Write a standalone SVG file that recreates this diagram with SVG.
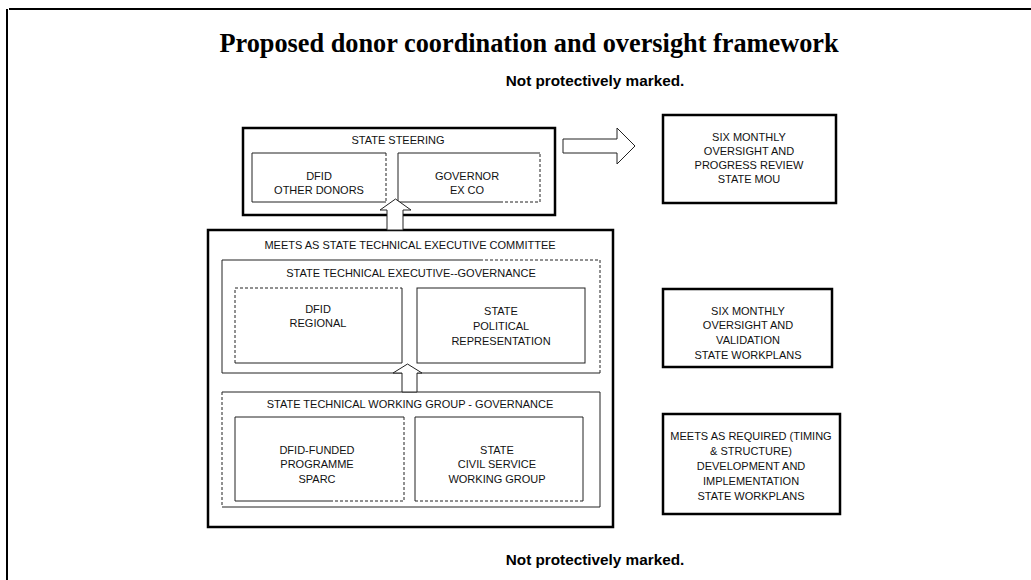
<svg xmlns="http://www.w3.org/2000/svg" width="1031" height="580" viewBox="0 0 1031 580">
<style>
.thick{fill:none;stroke:#000;stroke-width:2.5}
.thin{fill:none;stroke:#222;stroke-width:1}
.dash{fill:none;stroke:#222;stroke-width:1;stroke-dasharray:3 2}
.lbl{font-family:"Liberation Sans",Arial,sans-serif;font-size:11px;text-anchor:middle;fill:#111}
.arrow{fill:#fff;stroke:#222;stroke-width:1}
.mark{font-family:"Liberation Sans",Arial,sans-serif;font-size:15.3px;font-weight:bold;text-anchor:middle;fill:#000}
</style>
<rect width="1031" height="580" fill="#fff"/>
<g id="page-frame">
<line x1="9" y1="9" x2="1031" y2="9" stroke="#000" stroke-width="2"/>
<line x1="7" y1="9" x2="7" y2="580" stroke="#000" stroke-width="2"/>
</g>
<g id="header">
<text x="529" y="52" font-family="Liberation Serif,Times New Roman,serif" font-size="26.3" font-weight="bold" text-anchor="middle">Proposed donor coordination and oversight framework</text>
<text class="mark" x="595" y="86">Not protectively marked.</text>
</g>
<g id="state-steering">
<rect class="thick" x="243" y="128" width="312" height="87"/>
<text class="lbl" x="398" y="144">STATE STEERING</text>
</g>
<g id="dfid-other-donors">
<path class="thin" d="M386,153 H252 V202 H386"/>
<path class="dash" d="M386,153 V202"/>
<text class="lbl" x="319" y="180">DFID</text>
<text class="lbl" x="319" y="194">OTHER DONORS</text>
</g>
<g id="governor-ex-co">
<path class="thin" d="M540,153 H398 V202 H500"/>
<path class="dash" d="M500,202 H540 V153"/>
<text class="lbl" x="467" y="180">GOVERNOR</text>
<text class="lbl" x="467" y="194">EX CO</text>
</g>
<g id="technical-executive-committee">
<rect class="thick" x="208" y="230" width="405" height="297" stroke-width="3"/>
<text class="lbl" x="410" y="249">MEETS AS STATE TECHNICAL EXECUTIVE COMMITTEE</text>
</g>
<g id="technical-executive-governance">
<path class="thin" d="M480,260 H222 V373 H600"/>
<path class="dash" d="M480,260 H600 V373"/>
<text class="lbl" x="411" y="277">STATE TECHNICAL EXECUTIVE--GOVERNANCE</text>
</g>
<g id="dfid-regional">
<path class="dash" d="M235,363 V288 H402"/>
<path class="thin" d="M402,288 V363 H235"/>
<text class="lbl" x="318" y="313">DFID</text>
<text class="lbl" x="318" y="327">REGIONAL</text>
</g>
<g id="state-political-representation">
<rect class="thin" x="417" y="288" width="168" height="75"/>
<text class="lbl" x="501" y="315">STATE</text>
<text class="lbl" x="501" y="330">POLITICAL</text>
<text class="lbl" x="501" y="345">REPRESENTATION</text>
</g>
<g id="technical-working-group">
<path class="thin" d="M222,392 H600 V507 H222"/>
<path class="dash" d="M222,392 V507"/>
<text class="lbl" x="410" y="408">STATE TECHNICAL WORKING GROUP - GOVERNANCE</text>
</g>
<g id="dfid-funded-programme">
<path class="thin" d="M404,417 H235 V501 H330"/>
<path class="dash" d="M330,501 H404 V417"/>
<text class="lbl" x="317" y="454">DFID-FUNDED</text>
<text class="lbl" x="317" y="468">PROGRAMME</text>
<text class="lbl" x="317" y="483">SPARC</text>
</g>
<g id="state-civil-service">
<path class="thin" d="M415,501 V417 H583 V501"/>
<path class="dash" d="M415,501 H583"/>
<text class="lbl" x="497" y="454">STATE</text>
<text class="lbl" x="497" y="468">CIVIL SERVICE</text>
<text class="lbl" x="497" y="483">WORKING GROUP</text>
</g>
<g id="progress-review">
<rect class="thick" x="663" y="115" width="173" height="88"/>
<text class="lbl" x="749" y="141">SIX MONTHLY</text>
<text class="lbl" x="749" y="155">OVERSIGHT AND</text>
<text class="lbl" x="749" y="169">PROGRESS REVIEW</text>
<text class="lbl" x="749" y="183">STATE MOU</text>
</g>
<g id="validation">
<rect class="thick" x="663" y="289" width="169" height="78"/>
<text class="lbl" x="748" y="315">SIX MONTHLY</text>
<text class="lbl" x="748" y="329">OVERSIGHT AND</text>
<text class="lbl" x="748" y="344">VALIDATION</text>
<text class="lbl" x="748" y="359">STATE WORKPLANS</text>
</g>
<g id="development-implementation">
<rect class="thick" x="663" y="414" width="177" height="100"/>
<text class="lbl" x="751" y="440">MEETS AS REQUIRED (TIMING</text>
<text class="lbl" x="751" y="455">&amp; STRUCTURE)</text>
<text class="lbl" x="751" y="470">DEVELOPMENT AND</text>
<text class="lbl" x="751" y="485">IMPLEMENTATION</text>
<text class="lbl" x="751" y="500">STATE WORKPLANS</text>
</g>
<g id="connectors">
<polygon class="arrow" points="563,139 617,139 617,128 635,146 617,164 617,153 563,153"/>
<polygon class="arrow" points="387,230 387,210 380,210 395.5,199 411,210 403,210 403,230"/>
<polygon class="arrow" points="402,392 402,373 393,373 407.5,364 422,373 417,373 417,392"/>
</g>
<g id="footer">
<text class="mark" x="595" y="565">Not protectively marked.</text>
</g>
</svg>
